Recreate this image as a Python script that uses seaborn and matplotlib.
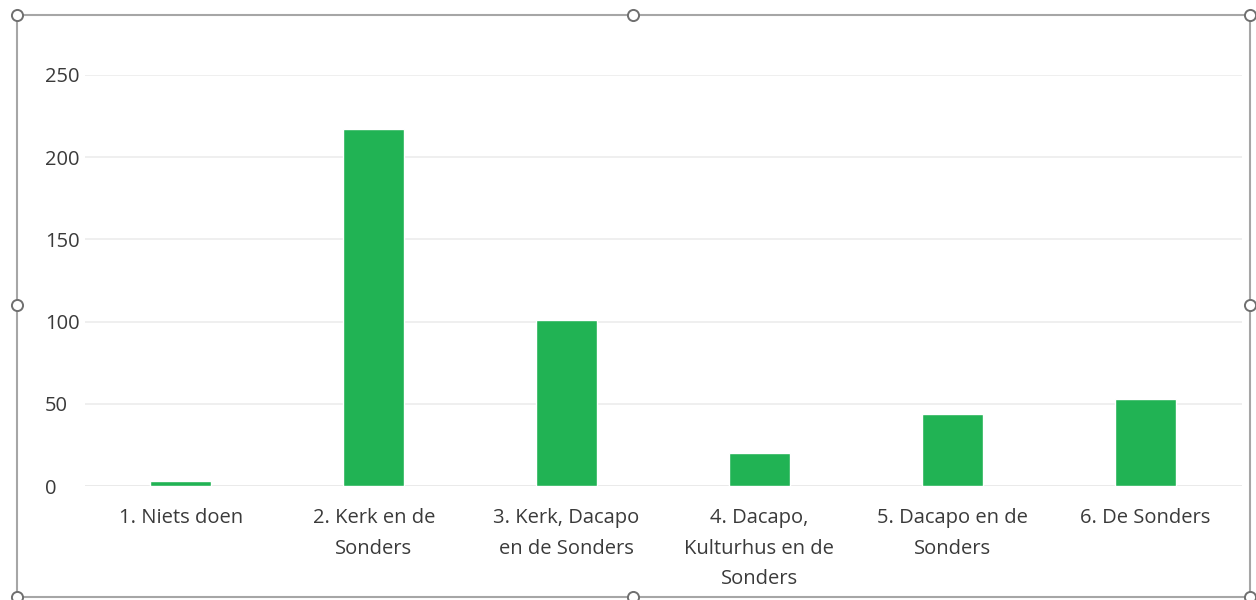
import seaborn as sns
import pandas as pd
from matplotlib import pyplot as plt
from matplotlib.patches import Rectangle
from matplotlib.lines import Line2D

categories = ["1. Niets doen", "2. Kerk en de\nSonders", "3. Kerk, Dacapo\nen de Sonders",
              "4. Dacapo,\nKulturhus en de\nSonders", "5. Dacapo en de\nSonders", "6. De Sonders"]
votes = [3, 217, 101, 20, 44, 53]
yticks = [0, 50, 100, 150, 200, 250]

df = pd.DataFrame({"optie": categories, "stemmen": votes})

sns.set_style("white")
plt.rcParams['font.family'] = ['Open Sans', 'DejaVu Sans']

fig = plt.figure(figsize=(12.56, 6), dpi=100)
ax = fig.add_axes([84.5 / 1256, 114 / 600, 1157 / 1256, 411 / 600])

sns.barplot(data=df, x="optie", y="stemmen", color="#21b354", width=0.316,
            saturation=1, ax=ax)

ax.set_ylim(0, 250)
ax.set_yticks(yticks)
ax.set_xlabel("")
ax.set_ylabel("")
ax.grid(axis='y', color='#ececec', linewidth=1.2)
ax.set_axisbelow(True)
sns.despine(ax=ax, left=True, bottom=True, top=True, right=True)
ax.axhline(0, color='#e2e2e2', linewidth=1.2, zorder=0)

ax.tick_params(axis='both', length=0, colors='#3a3a3a', labelsize=14.5)
ax.tick_params(axis='x', pad=16)
ax.tick_params(axis='y', pad=28.5)
for lbl in ax.get_yticklabels():
    lbl.set_horizontalalignment('left')
for lbl in ax.get_xticklabels():
    lbl.set_linespacing(1.7)

# chart frame with selection handles
fig.patches.append(Rectangle((17 / 1256, 3 / 600), 1233 / 1256, 582 / 600,
                             transform=fig.transFigure, fill=False,
                             edgecolor='#a6a6a6', linewidth=1.5))
hx = [17, 633, 1250, 17, 1250, 17, 633, 1250]
hy = [585, 585, 585, 295, 295, 3, 3, 3]
fig.lines.append(Line2D([x / 1256 for x in hx], [y / 600 for y in hy],
                        transform=fig.transFigure, linestyle='none', marker='o',
                        markersize=8, markerfacecolor='white',
                        markeredgecolor='#6f6f6f', markeredgewidth=1.4))

fig.savefig("out.png", dpi=100)
